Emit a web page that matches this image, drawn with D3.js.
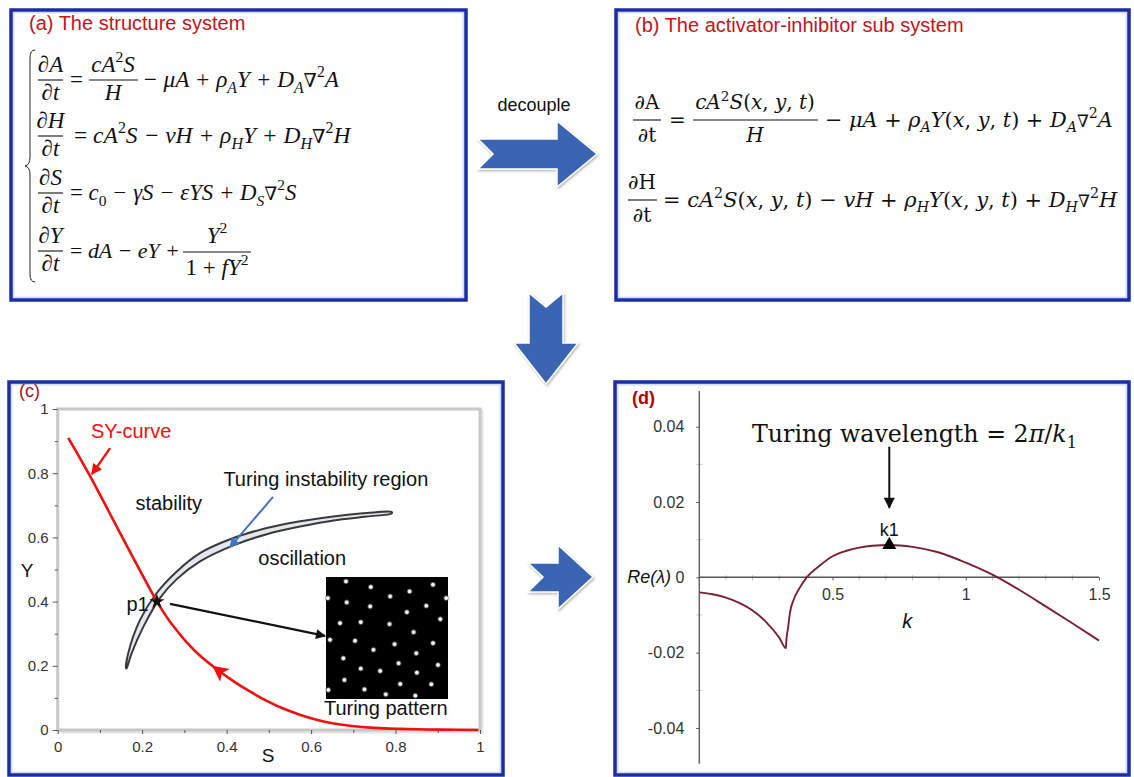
<!DOCTYPE html>
<html>
<head>
<meta charset="utf-8">
<script src="https://cdn.jsdelivr.net/npm/d3@7"></script>
<style>
  body { margin: 0; background: #fff; }
</style>
</head>
<body>
<div id="fig"></div>
<script>
// ---------- data ----------
// panel (c): S-Y plane
const cTicksMajor = [0, 0.2, 0.4, 0.6, 0.8, 1];
const cTicksMinor = [0.1, 0.3, 0.5, 0.7, 0.9];
const syS = [0.025, 0.077, 0.12, 0.16, 0.2, 0.234, 0.25, 0.27, 0.305, 0.34, 0.376, 0.415, 0.455, 0.495, 0.534, 0.575, 0.613, 0.65, 0.692, 0.75, 0.81, 0.9, 0.996];
const syY = [0.91, 0.79, 0.683, 0.583, 0.484, 0.402, 0.368, 0.330, 0.274, 0.228, 0.190, 0.153, 0.120, 0.091, 0.067, 0.047, 0.032, 0.021, 0.013, 0.0065, 0.0035, 0.0012, 0.0];
const turUpperS = [0.162, 0.167, 0.195, 0.234, 0.282, 0.337, 0.416, 0.495, 0.574, 0.653, 0.732, 0.791];
const turUpperY = [0.192, 0.239, 0.343, 0.426, 0.494, 0.551, 0.598, 0.629, 0.650, 0.665, 0.676, 0.679];
const turLowerS = [0.791, 0.732, 0.653, 0.574, 0.495, 0.416, 0.337, 0.282, 0.242, 0.203, 0.175, 0.163];
const turLowerY = [0.675, 0.665, 0.653, 0.634, 0.610, 0.575, 0.525, 0.470, 0.411, 0.322, 0.239, 0.192];
const p1 = { S: 0.235, Y: 0.40 };
// Turing pattern spots (relative position inside the inset, 0..1)
const dotU = [0.164, 0.367, 0.685, 0.877, 0.526, 0.170, 0.362, 0.663, 0.822, 0.99, 0.01, 0.115, 0.285, 0.521, 0.718, 0.937, 0.033, 0.238, 0.562, 0.877, 0.389, 0.740, 0.142, 0.595, 0.918, 0.285, 0.444, 0.745, 0.151, 0.608, 0.863, 0.019, 0.315, 0.490, 0.732];
const dotV = [0.036, 0.082, 0.118, 0.063, 0.159, 0.208, 0.241, 0.288, 0.236, 0.173, 0.173, 0.378, 0.370, 0.386, 0.452, 0.345, 0.515, 0.523, 0.551, 0.542, 0.597, 0.625, 0.666, 0.707, 0.721, 0.751, 0.770, 0.784, 0.844, 0.877, 0.879, 0.926, 0.921, 0.962, 0.973];

// panel (d): dispersion relation Re(lambda) vs k
const kVals = [0, 0.05, 0.1, 0.15, 0.2, 0.25, 0.3, 0.325, 0.327, 0.333, 0.34, 0.355, 0.375, 0.403, 0.45, 0.5, 0.55, 0.6, 0.65, 0.713, 0.8, 0.9, 1.0, 1.1, 1.2, 1.3, 1.4, 1.5];
const reVals = [-0.0040, -0.0045, -0.0054, -0.0068, -0.0088, -0.0118, -0.0160, -0.0188, -0.0165, -0.0135, -0.0095, -0.0058, -0.0030, 0.0, 0.0030, 0.0056, 0.0070, 0.0079, 0.0084, 0.0086, 0.0081, 0.0066, 0.0039, 0.0007, -0.0033, -0.0077, -0.0122, -0.0168];
const dTicksX = [0.5, 1, 1.5];
const dTicksY = [-0.04, -0.02, 0, 0.02, 0.04];
const dMinorX = [0.1, 0.2, 0.3, 0.4, 0.6, 0.7, 0.8, 0.9, 1.1, 1.2, 1.3, 1.4];
const dMinorY = [-0.03, -0.01, 0.01, 0.03];
const k1 = { k: 0.713, re: 0.0086 };

// ---------- svg ----------
const svg = d3.select("#fig").append("svg")
  .attr("width", 1134).attr("height", 777)
  .style("font-family", "'Liberation Sans', Arial, sans-serif");
svg.append("rect").attr("width", 1134).attr("height", 777).attr("fill", "#fff");

const defs = svg.append("defs");
const shadow = defs.append("filter").attr("id", "shadow")
  .attr("x", "-20%").attr("y", "-20%").attr("width", "140%").attr("height", "140%");
shadow.append("feDropShadow").attr("dx", 1).attr("dy", 1.5)
  .attr("stdDeviation", 1.3).attr("flood-color", "#888").attr("flood-opacity", 0.6);

function marker(id, color, w, h) {
  defs.append("marker").attr("id", id)
    .attr("viewBox", "0 0 10 10").attr("refX", 9).attr("refY", 5)
    .attr("markerUnits", "userSpaceOnUse")
    .attr("markerWidth", w).attr("markerHeight", h)
    .attr("orient", "auto")
    .append("path").attr("d", "M0,0 L10,5 L0,10 Z").attr("fill", color);
}
marker("arRed", "#f01010", 13, 11);
marker("arBlue", "#4472c4", 13, 10);
marker("arBlack", "#111", 16, 10);
marker("arBlackD", "#111", 20, 11);

const grad = defs.append("radialGradient").attr("id", "spot");
grad.append("stop").attr("offset", "0%").attr("stop-color", "#fff");
grad.append("stop").attr("offset", "40%").attr("stop-color", "#eee");
grad.append("stop").attr("offset", "100%").attr("stop-color", "#000").attr("stop-opacity", 0);

// panel frames
function frame(x, y, w, h) {
  svg.append("rect").attr("x", x + 2.5).attr("y", y + 2.5).attr("width", w - 5).attr("height", h - 5)
    .attr("fill", "none").attr("stroke", "#d3ddf3").attr("stroke-width", 2);
  svg.append("rect").attr("x", x).attr("y", y).attr("width", w).attr("height", h)
    .attr("fill", "none").attr("stroke", "#1a2ca6").attr("stroke-width", 3.5);
}
frame(11, 10, 455, 290);
frame(616, 10, 513, 290);
frame(9, 382, 494, 393);
frame(615, 382, 514, 393);

// big blue arrows
const bigArrows = [
  [[478, 139], [557, 139], [557, 121], [597, 154], [557, 187], [557, 169], [478, 169], [493, 154]],
  [[529, 293], [546, 307], [563, 293], [563, 343], [578, 343], [546, 384], [514, 343], [529, 343]],
  [[528, 563], [558, 563], [558, 545], [593, 577], [558, 609], [558, 592], [528, 592], [543, 577]]
];
svg.selectAll("polygon.big").data(bigArrows).join("polygon")
  .attr("class", "big")
  .attr("points", d => d.map(p => p.join(",")).join(" "))
  .attr("fill", "#3b65b3").attr("stroke", "#fff").attr("stroke-width", 1.5)
  .attr("filter", "url(#shadow)");

svg.append("text").attr("x", 534).attr("y", 111).attr("text-anchor", "middle")
  .attr("font-size", 18).attr("fill", "#111").text("decouple");

// ---------- math text helper ----------
// parts: "text" (italic) or [text, kind]; kind: r roman, sup, sub, n nabla
function math(g, x, y, parts, size, opt = {}) {
  const draw = fs0 => {
    const t = g.append("text").attr("x", x).attr("y", y)
      .attr("font-family", opt.font || "'Liberation Serif', 'Times New Roman', serif")
      .attr("font-size", fs0).attr("text-anchor", opt.anchor || "start").attr("fill", "#111");
    let cur = 0;
    parts.forEach(p => {
      const [s, k] = Array.isArray(p) ? p : [p, "i"];
      let off = 0, fs = fs0;
      if (k === "sup") { off = -0.42 * fs0; fs = 0.68 * fs0; }
      if (k === "sub") { off = 0.25 * fs0; fs = 0.68 * fs0; }
      if (k === "n") { fs = 0.82 * fs0; }
      const ts = t.append("tspan").text(s).attr("font-size", fs).attr("dy", off - cur)
        .attr("font-style", (k === "r" || k === "n" || /^[0-9]+$/.test(s)) ? "normal" : "italic");
      if (k === "n") ts.attr("font-family", "'DejaVu Serif', serif");
      cur = off;
    });
    return t;
  };
  let t = draw(size);
  if (opt.width) {
    const w = t.node().getBBox().width;
    t.remove();
    t = draw(size * Math.max(0.75, Math.min(1.3, opt.width / w)));
  }
  return t;
}
function frac(g, cx, barY, x0, x1, num, den, size, opt = {}) {
  math(g, cx, barY - (opt.up || 8), num, size, { ...opt, anchor: "middle", width: null });
  g.append("line").attr("x1", x0).attr("x2", x1).attr("y1", barY).attr("y2", barY)
    .attr("stroke", "#111").attr("stroke-width", 1.1);
  math(g, cx, barY + (opt.down || 20), den, size, { ...opt, anchor: "middle", width: null });
}

// ---------- panel (a) ----------
const ga = svg.append("g");
ga.append("text").attr("x", 29).attr("y", 30).attr("font-size", 20).attr("fill", "#c4141c")
  .text("(a) The structure system");
ga.append("path")
  .attr("d", "M35,50 Q30,50 30,58 L30,157 Q30,165 25,166 Q30,167 30,175 L30,274 Q30,282 35,282")
  .attr("fill", "none").attr("stroke", "#222").attr("stroke-width", 1);
const fa = 23;
frac(ga, 50.5, 80, 38, 63, ["∂A"], ["∂t"], fa);
math(ga, 70, 87, [["=", "r"]], fa);
frac(ga, 113, 80, 89, 138, ["cA", ["2", "sup"], "S"], ["H"], fa);
math(ga, 142, 87, ["− μA + ρ", ["A", "sub"], "Y + D", ["A", "sub"], ["∇", "n"], ["2", "sup"], "A"], fa, { width: 198 });

frac(ga, 50.5, 136, 38, 63, ["∂H"], ["∂t"], fa);
math(ga, 74, 143, [["= ", "r"], "cA", ["2", "sup"], "S − vH + ρ", ["H", "sub"], "Y + D", ["H", "sub"], ["∇", "n"], ["2", "sup"], "H"], fa, { width: 278 });

frac(ga, 50.5, 193, 38, 63, ["∂S"], ["∂t"], fa);
math(ga, 70, 200, [["= ", "r"], "c", ["0", "sub"], " − γS − εYS + D", ["S", "sub"], ["∇", "n"], ["2", "sup"], "S"], fa, { width: 227 });

frac(ga, 50.5, 251, 38, 63, ["∂Y"], ["∂t"], fa);
math(ga, 70, 258, [["= ", "r"], "dA − eY +"], fa, { width: 110 });
frac(ga, 217, 252, 183, 251, ["Y", ["2", "sup"]], [["1 + ", "r"], "fY", ["2", "sup"]], fa, { up: 9, down: 23 });

// ---------- panel (b) ----------
const gb = svg.append("g");
gb.append("text").attr("x", 635).attr("y", 32).attr("font-size", 20).attr("fill", "#c4141c")
  .text("(b) The activator-inhibitor sub system");
const fb = 20, ob = { font: "'DejaVu Serif', serif", up: 11, down: 22 };
frac(gb, 647, 120, 633, 661, [["∂A", "r"]], [["∂t", "r"]], fb, ob);
math(gb, 669, 127, [["=", "r"]], fb, ob);
frac(gb, 755, 120, 693, 818, ["cA", ["2", "sup"], "S", ["(", "r"], "x", [", ", "r"], "y", [", ", "r"], "t", [")", "r"]], ["H"], fb, ob);
math(gb, 825, 127, ["− μA + ρ", ["A", "sub"], "Y", ["(", "r"], "x", [", ", "r"], "y", [", ", "r"], "t", [") + ", "r"], "D", ["A", "sub"], ["∇", "n"], ["2", "sup"], "A"], fb, { ...ob, width: 288 });
frac(gb, 642, 200, 628, 657, [["∂H", "r"]], [["∂t", "r"]], fb, ob);
math(gb, 663, 207, [["= ", "r"], "cA", ["2", "sup"], "S", ["(", "r"], "x", [", ", "r"], "y", [", ", "r"], "t", [") − ", "r"], "vH + ρ", ["H", "sub"], "Y", ["(", "r"], "x", [", ", "r"], "y", [", ", "r"], "t", [") + ", "r"], "D", ["H", "sub"], ["∇", "n"], ["2", "sup"], "H"], fb, { ...ob, width: 455 });

// ---------- panel (c) ----------
const gc = svg.append("g");
const xC = d3.scaleLinear().domain([0, 1]).range([57.7, 480]);
const yC = d3.scaleLinear().domain([0, 1]).range([730, 409]);

gc.append("rect").attr("x", xC(0) + 2).attr("y", yC(1) + 2).attr("width", xC(1) - xC(0)).attr("height", yC(0) - yC(1))
  .attr("fill", "none").attr("stroke", "#e4e4e4").attr("stroke-width", 3);
gc.append("rect").attr("x", xC(0)).attr("y", yC(1)).attr("width", xC(1) - xC(0)).attr("height", yC(0) - yC(1))
  .attr("fill", "#fff").attr("stroke", "#c8c8c8").attr("stroke-width", 3);

const styleAxis = sel => {
  sel.select(".domain").remove();
  sel.selectAll(".tick line").attr("stroke", "#555");
  sel.selectAll(".tick text").attr("fill", "#333").attr("font-family", "'Liberation Sans', Arial, sans-serif");
};
gc.append("g").attr("transform", `translate(${xC(0)},0)`)
  .call(d3.axisLeft(yC).tickValues(cTicksMajor).tickSize(5).tickPadding(4).tickFormat(d => String(d)))
  .attr("font-size", 15).call(styleAxis);
gc.append("g").attr("transform", `translate(${xC(0)},0)`)
  .call(d3.axisLeft(yC).tickValues(cTicksMinor).tickSize(3).tickFormat(""))
  .call(styleAxis);
gc.append("g").attr("transform", `translate(0,${yC(0)})`)
  .call(d3.axisBottom(xC).tickValues(cTicksMajor).tickSize(4).tickPadding(7).tickFormat(d => String(d)))
  .attr("font-size", 15).call(styleAxis);
gc.append("g").attr("transform", `translate(0,${yC(0)})`)
  .call(d3.axisBottom(xC).tickValues(cTicksMinor).tickSize(3).tickFormat(""))
  .call(styleAxis);

gc.append("text").attr("x", xC(0.498)).attr("y", 762).attr("text-anchor", "middle")
  .attr("font-size", 19).attr("fill", "#111").text("S");
gc.append("text").attr("x", 27).attr("y", 577).attr("text-anchor", "middle")
  .attr("font-size", 19).attr("fill", "#111").text("Y");
gc.append("text").attr("x", 19).attr("y", 397).attr("font-size", 18).attr("fill", "#a51414").text("(c)");

// Turing instability region
const regionPts = turUpperS.map((s, i) => [xC(s), yC(turUpperY[i])])
  .concat(turLowerS.map((s, i) => [xC(s), yC(turLowerY[i])]));
gc.append("path").attr("d", d3.line().curve(d3.curveCatmullRomClosed)(regionPts))
  .attr("fill", "#e2e7f0").attr("stroke", "#3a3a3a").attr("stroke-width", 2);

// SY curve
const syPts = syS.map((s, i) => [xC(s), yC(syY[i])]);
gc.append("path").attr("d", d3.line().curve(d3.curveCatmullRom)(syPts))
  .attr("fill", "none").attr("stroke", "#f01010").attr("stroke-width", 2.6);
// direction arrowhead on the curve (points toward decreasing S)
{
  const a = [xC(0.395), yC(0.171)], b = [xC(0.376), yC(0.190)];
  const ang = Math.atan2(b[1] - a[1], b[0] - a[0]) * 180 / Math.PI;
  gc.append("path").attr("d", "M9,0 L-7,-8 L-3,0 L-7,8 Z").attr("fill", "#f01010")
    .attr("transform", `translate(${xC(0.383)},${yC(0.183)}) rotate(${ang})`);
}

// p1
gc.append("path").attr("d", d3.symbol(d3.symbolStar, 70)())
  .attr("transform", `translate(${xC(p1.S)},${yC(p1.Y)})`).attr("fill", "#111");

// annotation arrows
gc.append("line").attr("x1", xC(0.124)).attr("y1", yC(0.878)).attr("x2", xC(0.081)).attr("y2", yC(0.797))
  .attr("stroke", "#f01010").attr("stroke-width", 2.4).attr("marker-end", "url(#arRed)");
gc.append("line").attr("x1", xC(0.51)).attr("y1", yC(0.726)).attr("x2", xC(0.408)).attr("y2", yC(0.57))
  .attr("stroke", "#4472c4").attr("stroke-width", 2).attr("marker-end", "url(#arBlue)");
gc.append("line").attr("x1", xC(0.266)).attr("y1", yC(0.393)).attr("x2", xC(0.633)).attr("y2", yC(0.293))
  .attr("stroke", "#111").attr("stroke-width", 2.2).attr("marker-end", "url(#arBlack)");

// labels
const cLabels = [
  { t: "SY-curve", S: 0.174, Y: 0.931, c: "#f01010" },
  { t: "stability", S: 0.263, Y: 0.707, c: "#111" },
  { t: "Turing instability region", S: 0.635, Y: 0.782, c: "#111" },
  { t: "oscillation", S: 0.579, Y: 0.536, c: "#111" },
  { t: "p1", S: 0.189, Y: 0.393, c: "#111" },
  { t: "Turing pattern", S: 0.777, Y: 0.069, c: "#111" }
];
gc.selectAll("text.lab").data(cLabels).join("text").attr("class", "lab")
  .attr("x", d => xC(d.S)).attr("y", d => yC(d.Y) + 7).attr("text-anchor", "middle")
  .attr("font-size", 20).attr("fill", d => d.c).text(d => d.t);

// Turing pattern inset
const xP = d3.scaleLinear().domain([0, 1]).range([326, 448]);
const yP = d3.scaleLinear().domain([0, 1]).range([577, 699]);
gc.append("rect").attr("x", xP(0)).attr("y", yP(0)).attr("width", xP(1) - xP(0)).attr("height", yP(1) - yP(0))
  .attr("fill", "#000");
gc.selectAll("circle.spot").data(dotU).join("circle").attr("class", "spot")
  .attr("cx", d => xP(Math.min(0.985, Math.max(0.015, d))))
  .attr("cy", (d, i) => yP(dotV[i])).attr("r", 3.6).attr("fill", "url(#spot)");

// ---------- panel (d) ----------
const gd = svg.append("g");
const xD = d3.scaleLinear().domain([0, 1.5]).range([699.3, 1099]);
const yD = d3.scaleLinear().domain([-0.04, 0.04]).range([728, 426.7]);

gd.append("g").attr("transform", `translate(${xD(0)},0)`)
  .call(d3.axisLeft(yD).tickValues(dTicksY).tickSize(3).tickPadding(12).tickFormat(d => String(d)))
  .attr("font-size", 16).call(styleAxis);
gd.selectAll("line.my").data(dMinorY).join("line").attr("class", "my")
  .attr("x1", xD(0) - 3).attr("x2", xD(0) + 3).attr("y1", d => yD(d)).attr("y2", d => yD(d))
  .attr("stroke", "#c8c8c8");
gd.append("g").attr("transform", `translate(0,${yD(0)})`)
  .call(d3.axisBottom(xD).tickValues(dTicksX).tickSize(3).tickPadding(8).tickFormat(d => String(d)))
  .attr("font-size", 16).call(styleAxis);
gd.selectAll("line.mx").data(dMinorX).join("line").attr("class", "mx")
  .attr("x1", d => xD(d)).attr("x2", d => xD(d)).attr("y1", yD(0) - 2).attr("y2", yD(0) + 3)
  .attr("stroke", "#bbb");
gd.append("line").attr("x1", xD(0)).attr("x2", xD(0)).attr("y1", yD(0.0495)).attr("y2", yD(-0.0495))
  .attr("stroke", "#666").attr("stroke-width", 1.5);
gd.append("line").attr("x1", xD(0)).attr("x2", xD(1.5)).attr("y1", yD(0)).attr("y2", yD(0))
  .attr("stroke", "#555").attr("stroke-width", 1.5);

gd.append("path")
  .attr("d", d3.line().x(d => xD(d)).y((d, i) => yD(reVals[i])).curve(d3.curveMonotoneX)(kVals))
  .attr("fill", "none").attr("stroke", "#7a1f33").attr("stroke-width", 1.9);

gd.append("path").attr("d", d3.symbol(d3.symbolTriangle, 85)())
  .attr("transform", `translate(${xD(k1.k)},${yD(k1.re)})`).attr("fill", "#000");
gd.append("text").attr("x", xD(k1.k)).attr("y", yD(0.01245) + 6).attr("text-anchor", "middle")
  .attr("font-size", 18).attr("fill", "#111").text("k1");
gd.append("line").attr("x1", xD(k1.k)).attr("x2", xD(k1.k)).attr("y1", yD(0.0347)).attr("y2", yD(0.0185))
  .attr("stroke", "#111").attr("stroke-width", 2).attr("marker-end", "url(#arBlackD)");

math(gd, 752, 442, [["Turing wavelength = 2", "r"], "π", ["/", "r"], "k", ["1", "sub"]], 23,
  { font: "'DejaVu Serif', serif", width: 325 });

gd.append("text").attr("x", 671).attr("y", yD(0) + 6).attr("text-anchor", "end")
  .attr("font-size", 18).attr("font-style", "italic").attr("fill", "#111").text("Re(λ)");
gd.append("text").attr("x", xD(0.78)).attr("y", yD(0) + 51).attr("text-anchor", "middle")
  .attr("font-size", 20).attr("font-style", "italic").attr("fill", "#111").text("k");
gd.append("text").attr("x", 632).attr("y", 404).attr("font-size", 18).attr("font-weight", "bold")
  .attr("fill", "#b00000").text("(d)");
</script>
</body>
</html>
